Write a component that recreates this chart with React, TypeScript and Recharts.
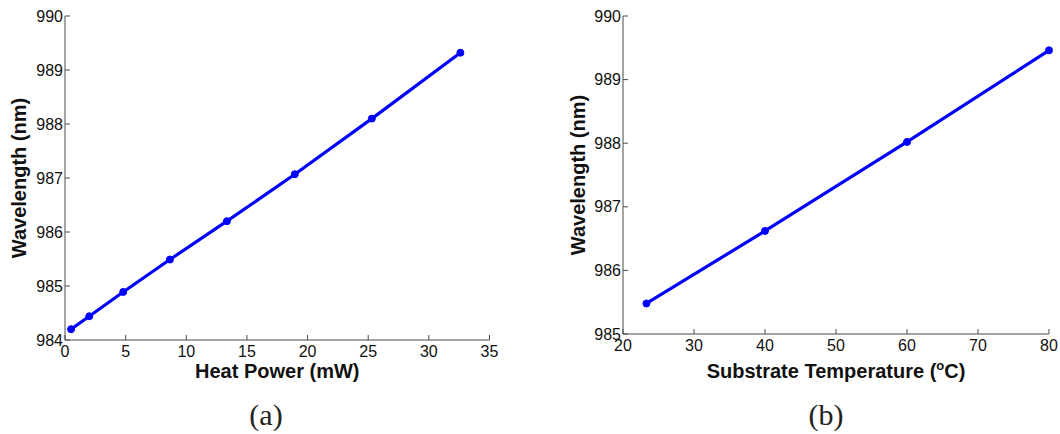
import { LineChart, Line, XAxis, YAxis, Label } from "recharts";

// (a) heat power sweep
const heatPower = [0.5, 2, 4.8, 8.65, 13.35, 18.95, 25.3, 32.6];
const heatWavelength = [984.2, 984.44, 984.89, 985.49, 986.2, 987.07, 988.1, 989.32];
const heatTicks = [0, 5, 10, 15, 20, 25, 30, 35];
const wavelengthTicksA = [984, 985, 986, 987, 988, 989, 990];

// (b) substrate temperature sweep
const substrateTemp = [23.3, 40, 60, 80];
const substrateWavelength = [985.48, 986.62, 988.02, 989.46];
const tempTicks = [20, 30, 40, 50, 60, 70, 80];
const wavelengthTicksB = [985, 986, 987, 988, 989, 990];

const W = 530;
const H = 434;
const FRAME = "#4a4a4a";
const BLUE = "#0000ff";
const SANS = "'Liberation Sans', Arial, Helvetica, sans-serif";
const tickStyle = { fill: "#111", fontSize: 16, fontFamily: SANS };

type PanelProps = {
  left: number;
  plotLeft: number;
  plotRight: number;
  plotBottom: number;
  xs: number[];
  ys: number[];
  xTicks: number[];
  yTicks: number[];
  xTitle: React.ReactNode;
  yTitleX: number;
  yTickMargin: number;
  caption: string;
  captionX: number;
};

function Panel(p: PanelProps) {
  const data = p.xs.map((x, i) => ({ x, y: p.ys[i] }));
  const xDomain = [p.xTicks[0], p.xTicks[p.xTicks.length - 1]];
  const yDomain = [p.yTicks[0], p.yTicks[p.yTicks.length - 1]];
  const top = 16;
  const xAxisH = 40;
  const midY = (top + p.plotBottom) / 2;

  return (
    <div style={{ position: "absolute", left: p.left, top: 0, width: W, height: H }}>
      <LineChart
        width={W}
        height={H}
        data={data}
        margin={{ top, right: W - p.plotRight, bottom: H - p.plotBottom - xAxisH, left: 0 }}
      >
        <XAxis
          dataKey="x"
          type="number"
          domain={xDomain}
          ticks={p.xTicks}
          interval={0}
          height={xAxisH}
          tickSize={-5}
          tickMargin={11}
          tick={tickStyle}
          axisLine={{ stroke: FRAME }}
          tickLine={{ stroke: FRAME }}
        >
          <Label
            content={({ viewBox }: any) => (
              <text
                x={viewBox.x + viewBox.width / 2}
                y={378}
                textAnchor="middle"
                fontFamily={SANS}
                fontWeight="bold"
                fontSize={20}
                fill="#111"
              >
                {p.xTitle}
              </text>
            )}
          />
        </XAxis>
        <XAxis
          xAxisId="top"
          orientation="top"
          dataKey="x"
          type="number"
          domain={xDomain}
          ticks={p.xTicks}
          interval={0}
          height={0}
          tickSize={-5}
          tick={false}
          axisLine={{ stroke: FRAME }}
          tickLine={{ stroke: FRAME }}
        />
        <YAxis
          type="number"
          domain={yDomain}
          ticks={p.yTicks}
          interval={0}
          width={p.plotLeft}
          tickSize={-5}
          tickMargin={p.yTickMargin}
          tick={tickStyle}
          axisLine={{ stroke: FRAME }}
          tickLine={{ stroke: FRAME }}
        >
          <Label
            content={() => (
              <text
                x={p.yTitleX}
                y={midY}
                transform={`rotate(-90, ${p.yTitleX}, ${midY})`}
                textAnchor="middle"
                fontFamily={SANS}
                fontWeight="bold"
                fontSize={20}
                fill="#111"
              >
                Wavelength (nm)
              </text>
            )}
          />
        </YAxis>
        <YAxis
          yAxisId="right"
          orientation="right"
          type="number"
          domain={yDomain}
          ticks={p.yTicks}
          interval={0}
          width={0}
          tickSize={-5}
          tick={false}
          axisLine={{ stroke: FRAME }}
          tickLine={{ stroke: FRAME }}
        />
        <Line
          dataKey="y"
          type="linear"
          stroke={BLUE}
          strokeWidth={3.2}
          dot={{ r: 3.5, fill: BLUE, stroke: BLUE, strokeWidth: 1 }}
          activeDot={false}
          isAnimationActive={false}
        />
      </LineChart>
      <div
        style={{
          position: "absolute",
          left: p.captionX - 40,
          width: 80,
          top: 397,
          textAlign: "center",
          fontFamily: "'Liberation Serif', 'Times New Roman', serif",
          fontSize: 30,
          lineHeight: "36px",
          color: "#222",
        }}
      >
        {p.caption}
      </div>
    </div>
  );
}

export default function App() {
  return (
    <div
      style={{
        position: "absolute",
        left: 0,
        top: 0,
        width: 1060,
        height: 434,
        background: "#fff",
        overflow: "hidden",
      }}
    >
      <Panel
        left={0}
        plotLeft={65}
        plotRight={489.5}
        plotBottom={340}
        xs={heatPower}
        ys={heatWavelength}
        xTicks={heatTicks}
        yTicks={wavelengthTicksA}
        xTitle="Heat Power (mW)"
        yTitleX={26}
        yTickMargin={7}
        caption="(a)"
        captionX={266}
      />
      <Panel
        left={530}
        plotLeft={93}
        plotRight={519}
        plotBottom={334}
        xs={substrateTemp}
        ys={substrateWavelength}
        xTicks={tempTicks}
        yTicks={wavelengthTicksB}
        xTitle={
          <>
            Substrate Temperature (
            <tspan dy={-8} fontSize={13}>o</tspan>
            <tspan dy={8}>C)</tspan>
          </>
        }
        yTitleX={55}
        yTickMargin={7}
        caption="(b)"
        captionX={296}
      />
    </div>
  );
}
